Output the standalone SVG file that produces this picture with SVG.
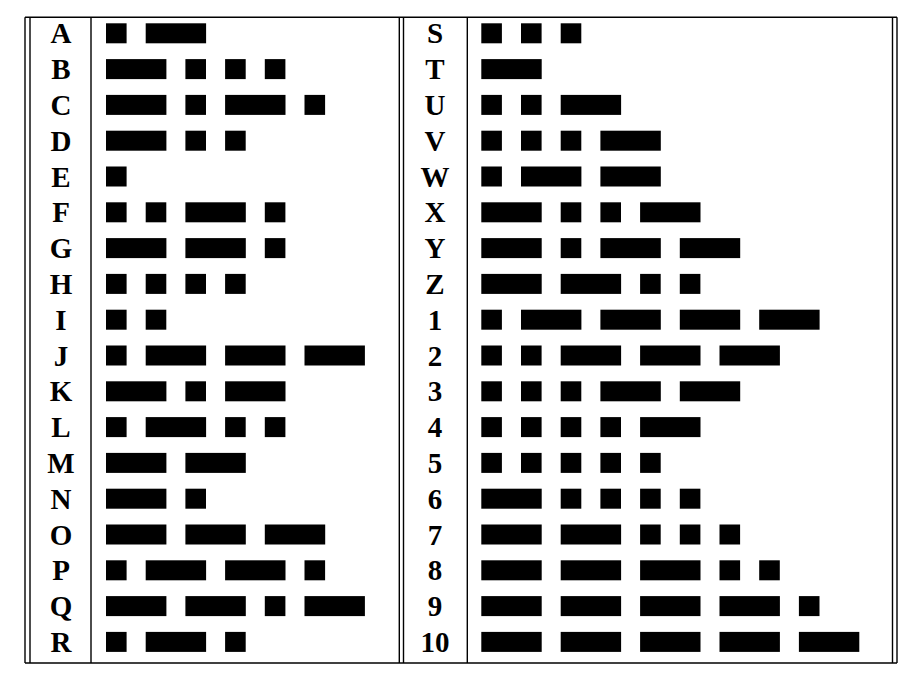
<svg xmlns="http://www.w3.org/2000/svg" xmlns:xlink="http://www.w3.org/1999/xlink" width="921" height="684" viewBox="0 0 921 684">
<style>
.ln{stroke:#000;stroke-width:1.4;fill:none}
.t{font-family:"Liberation Serif","Times New Roman",serif;font-weight:bold;font-size:29px;text-anchor:middle;fill:#000}
</style>
<defs>
<rect id="dot" width="20.6" height="20" fill="#000"/>
<rect id="dash" width="60.4" height="20" fill="#000"/>
</defs>
<rect width="921" height="684" fill="#fff"/>
<g id="frame">
<line class="ln" x1="25" y1="17.3" x2="897" y2="17.3"/>
<line class="ln" x1="25" y1="663" x2="897" y2="663"/>
<line class="ln" x1="25" y1="17.3" x2="25" y2="663"/>
<line class="ln" x1="30" y1="17.3" x2="30" y2="663"/>
<line class="ln" x1="91" y1="17.3" x2="91" y2="663"/>
<line class="ln" x1="399.3" y1="17.3" x2="399.3" y2="663"/>
<line class="ln" x1="403.5" y1="17.3" x2="403.5" y2="663"/>
<line class="ln" x1="467.3" y1="17.3" x2="467.3" y2="663"/>
<line class="ln" x1="892.5" y1="17.3" x2="892.5" y2="663"/>
<line class="ln" x1="897" y1="17.3" x2="897" y2="663"/>
</g>
<g id="row-A"><text class="t" x="61" y="43.3">A</text><use href="#dot" x="106" y="23.3"/><use href="#dash" x="145.7" y="23.3"/></g>
<g id="row-B"><text class="t" x="61" y="79.1">B</text><use href="#dash" x="106" y="59.1"/><use href="#dot" x="185.4" y="59.1"/><use href="#dot" x="225.1" y="59.1"/><use href="#dot" x="264.8" y="59.1"/></g>
<g id="row-C"><text class="t" x="61" y="114.9">C</text><use href="#dash" x="106" y="94.9"/><use href="#dot" x="185.4" y="94.9"/><use href="#dash" x="225.1" y="94.9"/><use href="#dot" x="304.5" y="94.9"/></g>
<g id="row-D"><text class="t" x="61" y="150.7">D</text><use href="#dash" x="106" y="130.7"/><use href="#dot" x="185.4" y="130.7"/><use href="#dot" x="225.1" y="130.7"/></g>
<g id="row-E"><text class="t" x="61" y="186.5">E</text><use href="#dot" x="106" y="166.5"/></g>
<g id="row-F"><text class="t" x="61" y="222.3">F</text><use href="#dot" x="106" y="202.3"/><use href="#dot" x="145.7" y="202.3"/><use href="#dash" x="185.4" y="202.3"/><use href="#dot" x="264.8" y="202.3"/></g>
<g id="row-G"><text class="t" x="61" y="258.1">G</text><use href="#dash" x="106" y="238.1"/><use href="#dash" x="185.4" y="238.1"/><use href="#dot" x="264.8" y="238.1"/></g>
<g id="row-H"><text class="t" x="61" y="293.9">H</text><use href="#dot" x="106" y="273.9"/><use href="#dot" x="145.7" y="273.9"/><use href="#dot" x="185.4" y="273.9"/><use href="#dot" x="225.1" y="273.9"/></g>
<g id="row-I"><text class="t" x="61" y="329.7">I</text><use href="#dot" x="106" y="309.7"/><use href="#dot" x="145.7" y="309.7"/></g>
<g id="row-J"><text class="t" x="61" y="365.5">J</text><use href="#dot" x="106" y="345.5"/><use href="#dash" x="145.7" y="345.5"/><use href="#dash" x="225.1" y="345.5"/><use href="#dash" x="304.5" y="345.5"/></g>
<g id="row-K"><text class="t" x="61" y="401.3">K</text><use href="#dash" x="106" y="381.3"/><use href="#dot" x="185.4" y="381.3"/><use href="#dash" x="225.1" y="381.3"/></g>
<g id="row-L"><text class="t" x="61" y="437.1">L</text><use href="#dot" x="106" y="417.1"/><use href="#dash" x="145.7" y="417.1"/><use href="#dot" x="225.1" y="417.1"/><use href="#dot" x="264.8" y="417.1"/></g>
<g id="row-M"><text class="t" x="61" y="472.9">M</text><use href="#dash" x="106" y="452.9"/><use href="#dash" x="185.4" y="452.9"/></g>
<g id="row-N"><text class="t" x="61" y="508.7">N</text><use href="#dash" x="106" y="488.7"/><use href="#dot" x="185.4" y="488.7"/></g>
<g id="row-O"><text class="t" x="61" y="544.5">O</text><use href="#dash" x="106" y="524.5"/><use href="#dash" x="185.4" y="524.5"/><use href="#dash" x="264.8" y="524.5"/></g>
<g id="row-P"><text class="t" x="61" y="580.3">P</text><use href="#dot" x="106" y="560.3"/><use href="#dash" x="145.7" y="560.3"/><use href="#dash" x="225.1" y="560.3"/><use href="#dot" x="304.5" y="560.3"/></g>
<g id="row-Q"><text class="t" x="61" y="616.1">Q</text><use href="#dash" x="106" y="596.1"/><use href="#dash" x="185.4" y="596.1"/><use href="#dot" x="264.8" y="596.1"/><use href="#dash" x="304.5" y="596.1"/></g>
<g id="row-R"><text class="t" x="61" y="651.9">R</text><use href="#dot" x="106" y="631.9"/><use href="#dash" x="145.7" y="631.9"/><use href="#dot" x="225.1" y="631.9"/></g>
<g id="row-S"><text class="t" x="435" y="43.3">S</text><use href="#dot" x="481.3" y="23.3"/><use href="#dot" x="521" y="23.3"/><use href="#dot" x="560.7" y="23.3"/></g>
<g id="row-T"><text class="t" x="435" y="79.1">T</text><use href="#dash" x="481.3" y="59.1"/></g>
<g id="row-U"><text class="t" x="435" y="114.9">U</text><use href="#dot" x="481.3" y="94.9"/><use href="#dot" x="521" y="94.9"/><use href="#dash" x="560.7" y="94.9"/></g>
<g id="row-V"><text class="t" x="435" y="150.7">V</text><use href="#dot" x="481.3" y="130.7"/><use href="#dot" x="521" y="130.7"/><use href="#dot" x="560.7" y="130.7"/><use href="#dash" x="600.4" y="130.7"/></g>
<g id="row-W"><text class="t" x="435" y="186.5">W</text><use href="#dot" x="481.3" y="166.5"/><use href="#dash" x="521" y="166.5"/><use href="#dash" x="600.4" y="166.5"/></g>
<g id="row-X"><text class="t" x="435" y="222.3">X</text><use href="#dash" x="481.3" y="202.3"/><use href="#dot" x="560.7" y="202.3"/><use href="#dot" x="600.4" y="202.3"/><use href="#dash" x="640.1" y="202.3"/></g>
<g id="row-Y"><text class="t" x="435" y="258.1">Y</text><use href="#dash" x="481.3" y="238.1"/><use href="#dot" x="560.7" y="238.1"/><use href="#dash" x="600.4" y="238.1"/><use href="#dash" x="679.8" y="238.1"/></g>
<g id="row-Z"><text class="t" x="435" y="293.9">Z</text><use href="#dash" x="481.3" y="273.9"/><use href="#dash" x="560.7" y="273.9"/><use href="#dot" x="640.1" y="273.9"/><use href="#dot" x="679.8" y="273.9"/></g>
<g id="row-1"><text class="t" x="435" y="329.7">1</text><use href="#dot" x="481.3" y="309.7"/><use href="#dash" x="521" y="309.7"/><use href="#dash" x="600.4" y="309.7"/><use href="#dash" x="679.8" y="309.7"/><use href="#dash" x="759.2" y="309.7"/></g>
<g id="row-2"><text class="t" x="435" y="365.5">2</text><use href="#dot" x="481.3" y="345.5"/><use href="#dot" x="521" y="345.5"/><use href="#dash" x="560.7" y="345.5"/><use href="#dash" x="640.1" y="345.5"/><use href="#dash" x="719.5" y="345.5"/></g>
<g id="row-3"><text class="t" x="435" y="401.3">3</text><use href="#dot" x="481.3" y="381.3"/><use href="#dot" x="521" y="381.3"/><use href="#dot" x="560.7" y="381.3"/><use href="#dash" x="600.4" y="381.3"/><use href="#dash" x="679.8" y="381.3"/></g>
<g id="row-4"><text class="t" x="435" y="437.1">4</text><use href="#dot" x="481.3" y="417.1"/><use href="#dot" x="521" y="417.1"/><use href="#dot" x="560.7" y="417.1"/><use href="#dot" x="600.4" y="417.1"/><use href="#dash" x="640.1" y="417.1"/></g>
<g id="row-5"><text class="t" x="435" y="472.9">5</text><use href="#dot" x="481.3" y="452.9"/><use href="#dot" x="521" y="452.9"/><use href="#dot" x="560.7" y="452.9"/><use href="#dot" x="600.4" y="452.9"/><use href="#dot" x="640.1" y="452.9"/></g>
<g id="row-6"><text class="t" x="435" y="508.7">6</text><use href="#dash" x="481.3" y="488.7"/><use href="#dot" x="560.7" y="488.7"/><use href="#dot" x="600.4" y="488.7"/><use href="#dot" x="640.1" y="488.7"/><use href="#dot" x="679.8" y="488.7"/></g>
<g id="row-7"><text class="t" x="435" y="544.5">7</text><use href="#dash" x="481.3" y="524.5"/><use href="#dash" x="560.7" y="524.5"/><use href="#dot" x="640.1" y="524.5"/><use href="#dot" x="679.8" y="524.5"/><use href="#dot" x="719.5" y="524.5"/></g>
<g id="row-8"><text class="t" x="435" y="580.3">8</text><use href="#dash" x="481.3" y="560.3"/><use href="#dash" x="560.7" y="560.3"/><use href="#dash" x="640.1" y="560.3"/><use href="#dot" x="719.5" y="560.3"/><use href="#dot" x="759.2" y="560.3"/></g>
<g id="row-9"><text class="t" x="435" y="616.1">9</text><use href="#dash" x="481.3" y="596.1"/><use href="#dash" x="560.7" y="596.1"/><use href="#dash" x="640.1" y="596.1"/><use href="#dash" x="719.5" y="596.1"/><use href="#dot" x="798.9" y="596.1"/></g>
<g id="row-10"><text class="t" x="435" y="651.9">10</text><use href="#dash" x="481.3" y="631.9"/><use href="#dash" x="560.7" y="631.9"/><use href="#dash" x="640.1" y="631.9"/><use href="#dash" x="719.5" y="631.9"/><use href="#dash" x="798.9" y="631.9"/></g>
</svg>
